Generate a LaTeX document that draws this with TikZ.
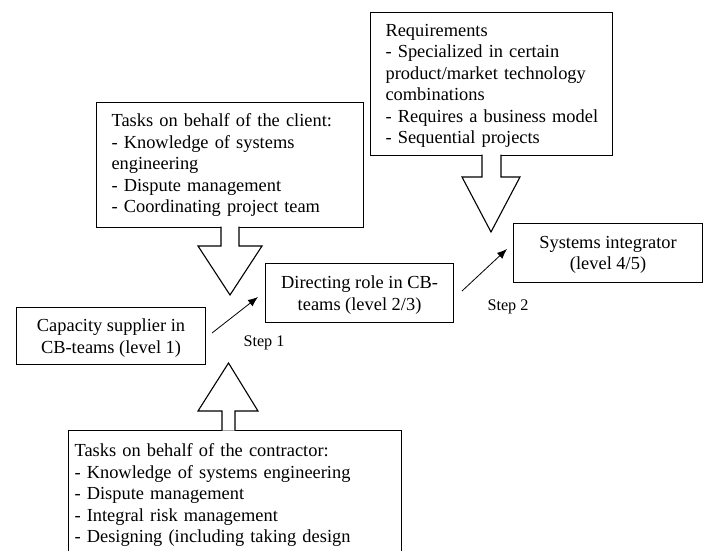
\documentclass[tikz,border=0pt]{standalone}
\usepackage{fontspec}
\setmainfont{Liberation Serif}
\usetikzlibrary{arrows.meta}
\begin{document}
\begin{tikzpicture}[x=1pt,y=-1pt,
  box/.style={draw=black, line width=1.1pt, fill=white, font=\fontsize{18.4}{21.5}\selectfont, anchor=north west, inner sep=0pt},
  bigbox/.style={box, align=left},
  smallbox/.style={box, align=center, text depth=0pt},
  blockarrow/.style={draw=black, line width=1.1pt, fill=white, line join=miter},
  steparrow/.style={draw=black, line width=0.8pt, -{Latex[length=10pt,width=8pt]}},
  steplabel/.style={font=\fontsize{16.2}{19}\selectfont, inner sep=0pt}
]
\useasboundingbox (0,0) rectangle (707,550);
\clip (0,0) rectangle (707,550);

% boxes
\node[bigbox, inner xsep=15pt, text width=237pt, minimum height=125pt] (client) at (96,102)
  {Tasks on behalf of the client:\\\mbox{- Knowledge of systems}\\engineering\\\mbox{- Dispute management}\\\mbox{- Coordinating project team}};
\node[bigbox, inner xsep=15pt, text width=212pt, minimum height=143pt] (req) at (370,12)
  {\rule{0pt}{16pt}Requirements\\\mbox{- Specialized in certain}\\\mbox{product/market technology}\\combinations\\\mbox{- Requires a business model}\\\mbox{- Sequential projects}};
\node[bigbox, inner xsep=6pt, inner ysep=13pt, text width=321pt] (contr) at (68,430)
  {Tasks on behalf of the contractor:\\\mbox{- Knowledge of systems engineering}\\\mbox{- Dispute management}\\\mbox{- Integral risk management}\\\mbox{- Designing (including taking design}};

\node[smallbox, minimum width=189pt, minimum height=57pt] (cap) at (16,307) {Capacity supplier in\\CB-teams (level 1)};
\node[smallbox, minimum width=188pt, minimum height=59pt] (dir) at (265,263) {Directing role in CB-\\teams (level 2/3)};
\node[smallbox, minimum width=189pt, minimum height=59pt] (sys) at (513,223) {Systems integrator\\(level 4/5)};

% block arrows
\path[blockarrow] (221,226.5) -- (221,246) -- (198,246) -- (230,295) -- (262,246) -- (239,246) -- (239,226.5);
\path[blockarrow] (482,154.5) -- (482,177) -- (462,177) -- (491,232) -- (520,177) -- (501,177) -- (501,154.5);
\path[blockarrow] (222,430.5) -- (222,411) -- (198,411) -- (228.5,363) -- (258,411) -- (235,411) -- (235,430.5);

% step arrows
\coordinate (s1a) at (212,333);
\coordinate (s1b) at (258,297);
\coordinate (s2a) at (462,291);
\coordinate (s2b) at (507,249);
\draw[steparrow] (s1a) -- (s1b);
\draw[steparrow] (s2a) -- (s2b);

\node[steplabel] (step1) at (264,343) {Step 1};
\node[steplabel] (step2) at (508,307) {Step 2};
\end{tikzpicture}
\end{document}
